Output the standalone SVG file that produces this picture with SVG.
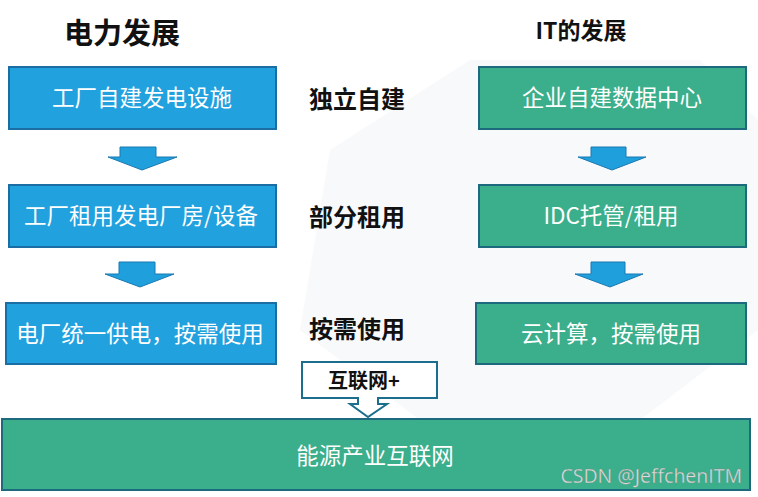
<svg xmlns="http://www.w3.org/2000/svg" width="758" height="497" viewBox="0 0 758 497">
<style>
.blue{fill:#21a1de;stroke:#1a6ea3;stroke-width:2}
.green{fill:#3bae8b;stroke:#1d6a7e;stroke-width:2}
.arr{fill:#1fa0dc;stroke:#1a78b2;stroke-width:1}
.bt{font-family:"Noto Sans CJK SC","Noto Sans",sans-serif;font-size:22.5px;fill:#ffffff;text-anchor:middle}
.lab{font-family:"Noto Sans CJK SC","Noto Sans",sans-serif;font-weight:bold;fill:#111111;text-anchor:middle}
</style>
<rect width="758" height="497" fill="#ffffff"/>
<g id="background" fill="#f8f9fa">
<polygon points="330,150 470,60 700,60 758,120 758,330 640,420 420,420 300,330"/>
</g>
<text class="lab" x="122" y="44" font-size="29">电力发展</text>
<text class="lab" x="581" y="39" font-size="23">IT的发展</text>
<text class="lab" x="357" y="108" font-size="24">独立自建</text>
<text class="lab" x="357" y="226" font-size="24">部分租用</text>
<text class="lab" x="357" y="338" font-size="24">按需使用</text>
<g id="n1"><rect class="blue" x="9" y="67" width="267" height="62"/><text class="bt" x="142" y="106">工厂自建发电设施</text></g>
<g id="n2"><rect class="blue" x="9" y="185" width="267" height="62"/><text class="bt" x="141" y="224">工厂租用发电厂房/设备</text></g>
<g id="n3"><rect class="blue" x="6" y="303" width="270" height="61"/><text class="bt" x="140" y="342">电厂统一供电，按需使用</text></g>
<g id="g1"><rect class="green" x="479" y="67" width="267" height="62"/><text class="bt" x="612" y="106">企业自建数据中心</text></g>
<g id="g2"><rect class="green" x="479" y="185" width="267" height="62"/><text class="bt" x="611" y="224">IDC托管/租用</text></g>
<g id="g3"><rect class="green" x="476" y="303" width="270" height="61"/><text class="bt" x="611" y="342">云计算，按需使用</text></g>
<g id="bottom"><rect class="green" x="2" y="419" width="748" height="71"/><text class="bt" x="375" y="464">能源产业互联网</text>
<text x="742" y="483" text-anchor="end" font-family="'Open Sans','Noto Sans',sans-serif" font-size="19.5" fill="#dcdcdc" stroke="#6a8f84" stroke-width="0.3">CSDN @JeffchenITM</text></g>
<g id="callout">
<rect x="302" y="362" width="135" height="36" fill="#ffffff" stroke="#1c6f8c" stroke-width="2"/>
<polygon points="358,398 378,398 378,404 387,404 368,417 350,404 358,404" fill="#ffffff" stroke="#1c6f8c" stroke-width="2" stroke-linejoin="miter"/>
<rect x="359" y="396" width="18" height="4" fill="#ffffff"/>
<text class="lab" x="364" y="388" font-size="20">互联网+</text>
</g>
<g id="connectors">
<polygon class="arr" points="120,147 156,147 156,157 177,157 142,170 108,157 120,157"/>
<polygon class="arr" points="119,262 155,262 155,274 174,274 140,287 105,274 119,274"/>
<polygon class="arr" points="591,147 626,147 626,157 646,157 612,170 578,157 591,157"/>
<polygon class="arr" points="591,262 625,262 625,274 643,274 610,287 575,274 591,274"/>
</g>
</svg>
